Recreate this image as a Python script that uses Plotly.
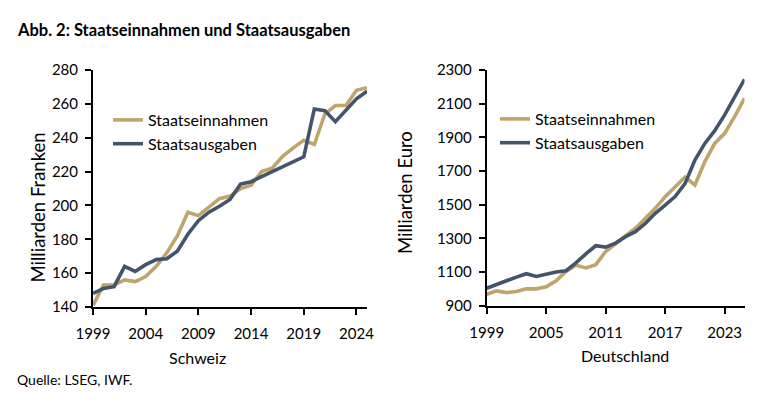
import plotly.graph_objects as go

# ---------------- data ----------------
years = list(range(1999, 2026))

ch_einnahmen = [141, 153, 153, 156, 155, 158, 164, 172, 182, 196, 194, 199, 204, 205.5, 210,
                212, 220, 222, 229, 234, 238.5, 236, 254, 259, 259, 268, 269.5]
ch_ausgaben = [148, 151, 152, 164, 161, 165, 168, 168.5, 173, 183, 191, 196, 199.5, 203.5, 212.6,
               214, 217, 220, 222.5, 225.8, 228.7, 257, 256, 249.5, 256.5, 263, 267.5]

de_einnahmen = [968, 988, 978, 984, 1000, 1000, 1012, 1048, 1104, 1140, 1124, 1144, 1222,
                1268, 1320, 1360, 1419, 1478, 1548, 1607, 1664, 1617, 1756, 1864, 1924, 2023, 2132]
de_ausgaben = [1004, 1024, 1048, 1070, 1090, 1074, 1088, 1100, 1108, 1154, 1208, 1256, 1248,
               1272, 1310, 1340, 1389, 1449, 1498, 1548, 1625, 1765, 1864, 1940, 2033, 2138, 2245]

ch_xticks = [1999, 2004, 2009, 2014, 2019, 2024]
de_xticks = [1999, 2005, 2011, 2017, 2023]
ch_yticks = [140, 160, 180, 200, 220, 240, 260, 280]
de_yticks = [900, 1100, 1300, 1500, 1700, 1900, 2100, 2300]

series_names = ["Staatseinnahmen", "Staatsausgaben"]

# ---------------- style ----------------
GOLD = "#BFA46C"
NAVY = "#44546A"
FONT = "Lato"
W, H = 768, 412

fig = go.Figure()

fig.add_trace(go.Scatter(x=years, y=ch_einnahmen, mode="lines", name=series_names[0],
                         line=dict(color=GOLD, width=3.6), xaxis="x", yaxis="y", legend="legend"))
fig.add_trace(go.Scatter(x=years, y=ch_ausgaben, mode="lines", name=series_names[1],
                         line=dict(color=NAVY, width=3.6), xaxis="x", yaxis="y", legend="legend"))
fig.add_trace(go.Scatter(x=years, y=de_einnahmen, mode="lines", name=series_names[0],
                         line=dict(color=GOLD, width=3.6), xaxis="x2", yaxis="y2", legend="legend2"))
fig.add_trace(go.Scatter(x=years, y=de_ausgaben, mode="lines", name=series_names[1],
                         line=dict(color=NAVY, width=3.6), xaxis="x2", yaxis="y2", legend="legend2"))

axis_common = dict(showgrid=False, zeroline=False, showline=True, linecolor="black", linewidth=2,
                   ticks="outside", ticklen=6, tickwidth=2, tickcolor="black", automargin=False,
                   tickfont=dict(family=FONT, size=15, color="black"))

fig.update_layout(
    width=W, height=H,
    margin=dict(l=0, r=0, t=0, b=0, autoexpand=False),
    paper_bgcolor="white", plot_bgcolor="white",
    font=dict(family=FONT, color="black"),
    xaxis=dict(domain=[93 / W, 367 / W], range=[1999, 2025], tickvals=ch_xticks,
               anchor="y", ticklabelstandoff=6, **axis_common),
    yaxis=dict(domain=[1 - 307 / H, 1 - 70 / H], range=[140, 280], tickvals=ch_yticks,
               anchor="x", ticklabelstandoff=4, **axis_common),
    xaxis2=dict(domain=[486.7 / W, 744.5 / W], range=[1999, 2025], tickvals=de_xticks,
                anchor="y2", ticklabelstandoff=6, **axis_common),
    yaxis2=dict(domain=[1 - 305.7 / H, 1 - 70 / H], range=[900, 2300], tickvals=de_yticks,
                anchor="x2", ticklabelstandoff=4, **axis_common),
    legend=dict(x=108 / W, y=1 - 103 / H, xanchor="left", yanchor="top",
                bgcolor="rgba(0,0,0,0)", font=dict(family=FONT, size=16, color="black"),
                tracegroupgap=0),
    legend2=dict(x=495 / W, y=1 - 102 / H, xanchor="left", yanchor="top",
                 bgcolor="rgba(0,0,0,0)", font=dict(family=FONT, size=16, color="black"),
                 tracegroupgap=0),
    showlegend=True,
)

annots = [
    dict(text="<b>Abb. 2: Staatseinnahmen und Staatsausgaben</b>", x=15 / W, y=1 - 30 / H,
         xanchor="left", yanchor="middle", font=dict(size=16.5)),
    dict(text="Milliarden Franken", x=37.5 / W, y=1 - 208 / H, textangle=-90,
         xanchor="center", yanchor="middle", font=dict(size=18.5)),
    dict(text="Milliarden Euro", x=405 / W, y=1 - 193 / H, textangle=-90,
         xanchor="center", yanchor="middle", font=dict(size=18.5)),
    dict(text="Schweiz", x=197 / W, y=1 - 357 / H, xanchor="center", yanchor="middle",
         font=dict(size=16)),
    dict(text="Deutschland", x=625 / W, y=1 - 355 / H, xanchor="center", yanchor="middle",
         font=dict(size=16)),
    dict(text="Quelle: LSEG, IWF.", x=15 / W, y=1 - 379 / H, xanchor="left", yanchor="middle",
         font=dict(size=14)),
]
for a in annots:
    a.update(xref="paper", yref="paper", showarrow=False)
    a["font"] = dict(family=FONT, color="black", **a["font"])
    fig.add_annotation(**a)

fig.write_html("out.html")
